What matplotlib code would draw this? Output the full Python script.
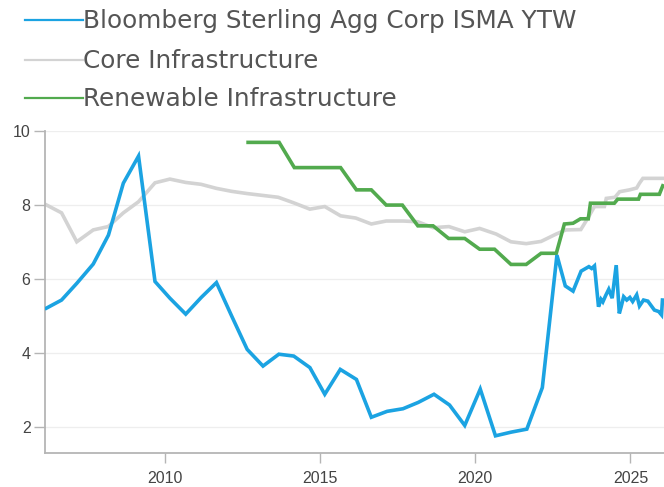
import matplotlib
matplotlib.use("Agg")
import matplotlib.pyplot as plt
from matplotlib.lines import Line2D

# ---------------- data ----------------
series_names = ["Bloomberg Sterling Agg Corp ISMA YTW", "Core Infrastructure", "Renewable Infrastructure"]

bloomberg_years = [2006.18, 2006.67, 2007.16, 2007.69, 2008.18, 2008.66, 2009.15, 2009.68, 2010.16, 2010.67,
                   2011.17, 2011.66, 2012.15, 2012.65, 2013.16, 2013.67, 2014.15, 2014.67, 2015.15, 2015.65,
                   2016.17, 2016.65, 2017.16, 2017.67, 2018.16, 2018.67, 2019.17, 2019.66, 2020.16, 2020.65,
                   2021.16, 2021.66, 2022.16, 2022.63, 2022.90, 2023.15, 2023.41, 2023.66, 2023.75, 2023.84,
                   2023.97, 2024.05, 2024.11, 2024.20, 2024.30, 2024.41, 2024.54, 2024.64, 2024.70, 2024.78,
                   2024.88, 2024.98, 2025.07, 2025.20, 2025.29, 2025.42, 2025.56, 2025.77, 2025.91, 2026.00,
                   2026.03]
bloomberg_vals = [5.21, 5.43, 5.88, 6.40, 7.18, 8.58, 9.31, 5.93, 5.48, 5.05,
                  5.50, 5.90, 5.00, 4.10, 3.65, 3.97, 3.92, 3.61, 2.89, 3.56,
                  3.29, 2.27, 2.43, 2.50, 2.67, 2.89, 2.60, 2.05, 3.03, 1.77,
                  1.87, 1.95, 3.07, 6.64, 5.81, 5.67, 6.21, 6.33, 6.28, 6.35,
                  5.25, 5.45, 5.38, 5.55, 5.72, 5.48, 6.37, 5.07, 5.25, 5.52,
                  5.43, 5.50, 5.39, 5.57, 5.27, 5.43, 5.40, 5.16, 5.12, 5.03,
                  5.43]

core_years = [2006.19, 2006.67, 2007.16, 2007.69, 2008.17, 2008.66, 2009.15, 2009.68, 2010.16, 2010.67,
              2011.16, 2011.66, 2012.15, 2012.65, 2013.15, 2013.65, 2014.15, 2014.67, 2015.15, 2015.66,
              2016.15, 2016.65, 2017.13, 2017.67, 2018.15, 2018.64, 2019.15, 2019.66, 2020.14, 2020.67,
              2021.15, 2021.64, 2022.12, 2022.61, 2022.92, 2023.40, 2023.62, 2023.84, 2024.16, 2024.22,
              2024.50, 2024.65, 2024.97, 2025.20, 2025.29, 2025.40, 2026.10]
core_vals = [7.99, 7.78, 7.00, 7.32, 7.41, 7.78, 8.08, 8.59, 8.69, 8.60,
             8.55, 8.44, 8.36, 8.30, 8.25, 8.20, 8.05, 7.88, 7.95, 7.70,
             7.64, 7.48, 7.56, 7.56, 7.54, 7.38, 7.41, 7.27, 7.36, 7.21,
             7.00, 6.95, 7.01, 7.21, 7.32, 7.33, 7.63, 7.95, 7.95, 8.17,
             8.20, 8.35, 8.40, 8.45, 8.58, 8.71, 8.71]

renew_years = [2012.68, 2013.68, 2014.17, 2015.66, 2016.17, 2016.65, 2017.13, 2017.65, 2018.15, 2018.64,
               2019.14, 2019.66, 2020.14, 2020.62, 2021.15, 2021.64, 2022.12, 2022.61, 2022.87, 2023.15,
               2023.39, 2023.64, 2023.71, 2024.48, 2024.59, 2025.26, 2025.32, 2025.93, 2026.04]
renew_vals = [9.68, 9.68, 9.00, 9.00, 8.40, 8.40, 7.99, 7.99, 7.43, 7.43,
              7.09, 7.09, 6.80, 6.80, 6.39, 6.39, 6.69, 6.69, 7.48, 7.50,
              7.62, 7.62, 8.04, 8.04, 8.15, 8.15, 8.28, 8.28, 8.51]

x_ticks = [2010, 2015, 2020, 2025]
x_tick_labels = ["2010", "2015", "2020", "2025"]
y_ticks = [2, 4, 6, 8, 10]
y_tick_labels = ["2", "4", "6", "8", "10"]

# ---------------- style ----------------
colors = ["#1ba3e2", "#d3d3d3", "#52aa4e"]
W, H = 664, 487

fig = plt.figure(figsize=(W / 100, H / 100), dpi=100)
ax = fig.add_axes([44.5 / W, 34.3 / H, (W - 44.5) / W, 322.2 / H])

for yv in y_ticks:
    ax.axhline(yv, color="#eeeeee", lw=0.9, zorder=0)

ax.plot(core_years, core_vals, color=colors[1], lw=2.6, zorder=2, solid_joinstyle="miter")
ax.plot(renew_years, renew_vals, color=colors[2], lw=2.6, zorder=3, solid_joinstyle="miter")
ax.plot(bloomberg_years, bloomberg_vals, color=colors[0], lw=2.6, zorder=4, solid_joinstyle="miter")

ax.set_xlim(2006.12, 2026.08)
ax.set_ylim(1.315, 10.0)

ax.set_xticks(x_ticks)
ax.set_xticklabels(x_tick_labels)
ax.set_yticks(y_ticks)
ax.set_yticklabels(y_tick_labels)

for s in ["top", "right"]:
    ax.spines[s].set_visible(False)
for s in ["left", "bottom"]:
    ax.spines[s].set_color("#b5b5b5")
    ax.spines[s].set_linewidth(1.3)

ax.tick_params(axis="x", length=7.5, width=1.0, color="#b5b5b5", pad=6,
               labelsize=11.5, labelcolor="#444444")
ax.tick_params(axis="y", length=8, width=1.0, color="#b5b5b5", pad=2,
               labelsize=11.5, labelcolor="#444444")
for lab in ax.get_xticklabels() + ax.get_yticklabels():
    lab.set_family("Liberation Sans")
ax.patch.set_alpha(0)

# ---------------- legend ----------------
legend_y = [20, 59.5, 97.5]
for name, c, yy in zip(series_names, colors, legend_y):
    fig.add_artist(Line2D([25 / W, 83 / W], [1 - yy / H, 1 - yy / H], color=c, lw=1.6,
                          transform=fig.transFigure))
    fig.text(83 / W, 1 - (yy + 1) / H, name, fontsize=17.8, color="#555555",
             family="DejaVu Sans", va="center", ha="left")

fig.savefig("out.png", dpi=100)
